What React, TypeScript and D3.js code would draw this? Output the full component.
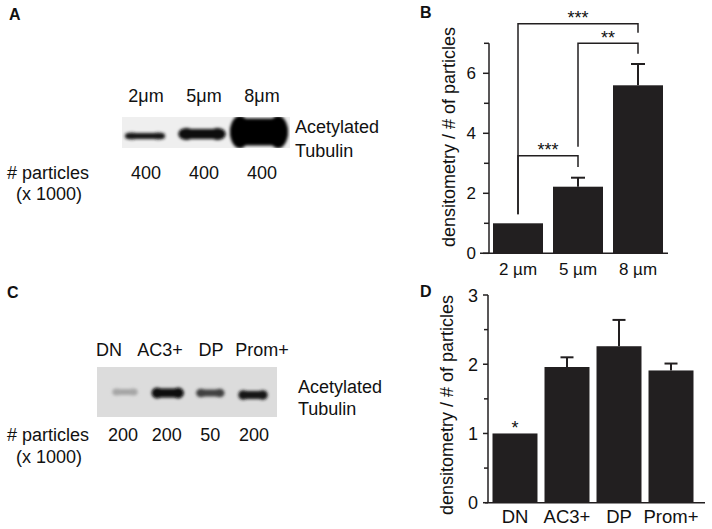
import React from "react";
import * as d3 from "d3";

// ---------- Panel A (blot) ----------
const laneLabelsA = ["2μm", "5μm", "8μm"];
const particlesA = ["400", "400", "400"];
const bandDarknessA = [0.92, 0.97, 1.0];
const bandWidthA = [40, 47, 58];
const bandHeightA = [6, 10, 27];
const bandYA = [136, 134, 132];

// ---------- Panel B (bars) ----------
const categoriesB = ["2 µm", "5 µm", "8 µm"];
const valuesB = [1.0, 2.22, 5.6];
const errorsB = [0, 0.3, 0.71];
const yTicksB = [0, 2, 4, 6];
const yMinorB = [1, 3, 5, 7];
const bracketsB = [
  { a: "2 µm", b: "8 µm", level: 7.65, aEnd: 1.3, bEnd: 7.35, label: "***" },
  { a: "5 µm", b: "8 µm", level: 7.0, aEnd: 3.55, bEnd: 6.65, label: "**" },
  { a: "2 µm", b: "5 µm", level: 3.25, aEnd: 1.3, bEnd: 2.88, label: "***" },
];

// ---------- Panel C (blot) ----------
const laneLabelsC = ["DN", "AC3+", "DP", "Prom+"];
const particlesC = ["200", "200", "50", "200"];
const bandDarknessC = [0.35, 0.97, 0.75, 0.9];
const bandWidthC = [25, 32, 28, 29];
const bandHeightC = [6, 9, 7, 8];
const bandYC = [392, 393, 393, 395];

// ---------- Panel D (bars) ----------
const categoriesD = ["DN", "AC3+", "DP", "Prom+"];
const valuesD = [1.0, 1.96, 2.26, 1.91];
const errorsD = [0, 0.14, 0.38, 0.1];
const yTicksD = [0, 1, 2, 3];
const yMinorD = [0.5, 1.5, 2.5];
const starsD = [{ cat: "DN", label: "*" }];

const FONT = "'Liberation Sans', Arial, sans-serif";
const INK = "#221f20";

function Blot(props: {
  x0: number; x1: number; y0: number; y1: number; bg: string; id: string;
  centers: number[]; widths: number[]; heights: number[]; ys: number[]; dark: number[]; blur: number;
}) {
  const { x0, x1, y0, y1, bg, id, centers, widths, heights, ys, dark, blur } = props;
  return (
    <g>
      <defs>
        <filter id={id} x="-50%" y="-100%" width="200%" height="300%">
          <feGaussianBlur stdDeviation={blur} />
        </filter>
        <clipPath id={id + "clip"}>
          <rect x={x0} y={y0} width={x1 - x0} height={y1 - y0} />
        </clipPath>
      </defs>
      <rect x={x0} y={y0} width={x1 - x0} height={y1 - y0} fill={bg} />
      <g clipPath={`url(#${id}clip)`}>
        <g filter={`url(#${id})`}>
          {centers.map((c, i) => {
            const v = Math.round(255 * (1 - dark[i]));
            const col = `rgb(${v},${v},${v})`;
            return (
              <g key={i}>
                <rect x={c - widths[i] / 2} y={ys[i] - heights[i] / 2} width={widths[i]} height={heights[i]}
                  rx={Math.min(heights[i] / 2, 13)} fill={col} />
                <ellipse cx={c - widths[i] * 0.33} cy={ys[i]} rx={widths[i] * 0.17} ry={heights[i] * 0.6} fill={col} />
                <ellipse cx={c + widths[i] * 0.33} cy={ys[i]} rx={widths[i] * 0.17} ry={heights[i] * 0.6} fill={col} />
              </g>
            );
          })}
        </g>
      </g>
    </g>
  );
}

export default function App() {
  // Panel A scales
  const laneA = d3.scalePoint<string>().domain(laneLabelsA).range([146, 262]);
  const bandXA = d3.scalePoint<number>().domain([0, 1, 2]).range([145, 259]);

  // Panel C scales
  const labelC = d3.scalePoint<string>().domain(laneLabelsC).range([109, 262]);
  const numC = d3.scalePoint<number>().domain([0, 1, 2, 3]).range([123, 254]);
  const bandXC = d3.scalePoint<number>().domain([0, 1, 2, 3]).range([125, 253]);

  // Panel B scales
  const xB = d3.scaleBand<string>().domain(categoriesB).range([488, 668]).paddingInner(1 / 6).paddingOuter(1 / 12);
  const yB = d3.scaleLinear().domain([0, 7]).range([253.3, 43.3]);
  const axisXB = 489;

  // Panel D scales
  const xD = d3.scaleBand<string>().domain(categoriesD).range([489, 697]).paddingInner(0.135).paddingOuter(0.0673);
  const yD = d3.scaleLinear().domain([0, 3]).range([502.7, 295]);
  const axisXD = 488;

  const cxB = (c: string) => (xB(c) as number) + xB.bandwidth() / 2;
  const cxD = (c: string) => (xD(c) as number) + xD.bandwidth() / 2;

  const txt = { fontFamily: FONT, fill: "#111" } as const;

  return (
    <svg width={712} height={529} style={{ position: "absolute", left: 0, top: 0, background: "#fff" }}>
      <rect x={0} y={0} width={712} height={529} fill="#fff" />
      {/* Panel letters */}
      <text x={9} y={20} fontSize={16} fontWeight="bold" {...txt}>A</text>
      <text x={420} y={18} fontSize={16} fontWeight="bold" {...txt}>B</text>
      <text x={7} y={298} fontSize={16} fontWeight="bold" {...txt}>C</text>
      <text x={420} y={297} fontSize={16} fontWeight="bold" {...txt}>D</text>

      {/* ---------- Panel A ---------- */}
      {laneLabelsA.map((l) => (
        <text key={l} x={laneA(l)} y={102} textAnchor="middle" fontSize={18} {...txt}>{l}</text>
      ))}
      <Blot x0={122} x1={290} y0={117} y1={148} bg="#efefef" id="blotA"
        centers={[0, 1, 2].map((i) => bandXA(i) as number)} widths={bandWidthA} heights={bandHeightA}
        ys={bandYA} dark={bandDarknessA} blur={1.6} />
      <text x={295} y={133} fontSize={18} {...txt}>Acetylated</text>
      <text x={295} y={157} fontSize={18} {...txt}>Tubulin</text>
      <text x={7} y={179} fontSize={18} {...txt}># particles</text>
      <text x={16} y={200} fontSize={18} {...txt}>(x 1000)</text>
      {particlesA.map((p, i) => (
        <text key={i} x={laneA(laneLabelsA[i])} y={179} textAnchor="middle" fontSize={18} {...txt}>{p}</text>
      ))}

      {/* ---------- Panel C ---------- */}
      {laneLabelsC.map((l) => (
        <text key={l} x={labelC(l)} y={356} textAnchor="middle" fontSize={18} {...txt}>{l}</text>
      ))}
      <Blot x0={97} x1={277} y0={367} y1={417} bg="#dcdcdc" id="blotC"
        centers={[0, 1, 2, 3].map((i) => bandXC(i) as number)} widths={bandWidthC} heights={bandHeightC}
        ys={bandYC} dark={bandDarknessC} blur={1.8} />
      <text x={298} y={393} fontSize={18} {...txt}>Acetylated</text>
      <text x={298} y={415} fontSize={18} {...txt}>Tubulin</text>
      <text x={7} y={441} fontSize={18} {...txt}># particles</text>
      <text x={16} y={463} fontSize={18} {...txt}>(x 1000)</text>
      {particlesC.map((p, i) => (
        <text key={i} x={numC(i)} y={441} textAnchor="middle" fontSize={18} {...txt}>{p}</text>
      ))}

      {/* ---------- Panel B ---------- */}
      <g>
        {categoriesB.map((c, i) => (
          <rect key={c} x={xB(c)} y={yB(valuesB[i])} width={xB.bandwidth()} height={yB(0) - yB(valuesB[i])} fill={INK} />
        ))}
        {categoriesB.map((c, i) =>
          errorsB[i] > 0 ? (
            <g key={c} stroke={INK} strokeWidth={2}>
              <line x1={cxB(c)} x2={cxB(c)} y1={yB(valuesB[i])} y2={yB(valuesB[i] + errorsB[i])} />
              <line x1={cxB(c) - 7} x2={cxB(c) + 7} y1={yB(valuesB[i] + errorsB[i])} y2={yB(valuesB[i] + errorsB[i])} />
            </g>
          ) : null
        )}
        <line x1={axisXB} x2={axisXB} y1={yB(7)} y2={yB(0)} stroke={INK} strokeWidth={1.5} />
        <line x1={480} x2={668} y1={yB(0)} y2={yB(0)} stroke={INK} strokeWidth={1.5} />
        {yTicksB.map((t) => (
          <g key={t}>
            <line x1={axisXB - 6} x2={axisXB} y1={yB(t)} y2={yB(t)} stroke={INK} strokeWidth={1.5} />
            <text x={476} y={yB(t) + 6} textAnchor="end" fontSize={17} {...txt}>{t}</text>
          </g>
        ))}
        {yMinorB.map((t) => (
          <line key={t} x1={axisXB - 5} x2={axisXB} y1={yB(t)} y2={yB(t)} stroke={INK} strokeWidth={1.5} />
        ))}
        {categoriesB.map((c) => (
          <text key={c} x={cxB(c)} y={275} textAnchor="middle" fontSize={17} {...txt}>{c}</text>
        ))}
        <text transform={`translate(455, 137) rotate(-90)`} textAnchor="middle" fontSize={18} {...txt}>
          densitometry / # of particles
        </text>
        {bracketsB.map((b, i) => {
          const xa = cxB(b.a), xb = cxB(b.b);
          return (
            <g key={i}>
              <path d={`M${xa},${yB(b.aEnd)}V${yB(b.level)}H${xb}V${yB(b.bEnd)}`} fill="none" stroke={INK} strokeWidth={1.5} />
              <text x={(xa + xb) / 2} y={yB(b.level) + 0.5} textAnchor="middle" fontSize={18} {...txt}>{b.label}</text>
            </g>
          );
        })}
      </g>

      {/* ---------- Panel D ---------- */}
      <g>
        {categoriesD.map((c, i) => (
          <rect key={c} x={xD(c)} y={yD(valuesD[i])} width={xD.bandwidth()} height={yD(0) - yD(valuesD[i])} fill={INK} />
        ))}
        {categoriesD.map((c, i) =>
          errorsD[i] > 0 ? (
            <g key={c} stroke={INK} strokeWidth={2}>
              <line x1={cxD(c)} x2={cxD(c)} y1={yD(valuesD[i])} y2={yD(valuesD[i] + errorsD[i])} />
              <line x1={cxD(c) - 6.5} x2={cxD(c) + 6.5} y1={yD(valuesD[i] + errorsD[i])} y2={yD(valuesD[i] + errorsD[i])} />
            </g>
          ) : null
        )}
        <line x1={axisXD} x2={axisXD} y1={yD(3)} y2={yD(0)} stroke={INK} strokeWidth={1.5} />
        <line x1={485} x2={705} y1={yD(0)} y2={yD(0)} stroke={INK} strokeWidth={1.5} />
        {yTicksD.map((t) => (
          <g key={t}>
            <line x1={axisXD - 5} x2={axisXD} y1={yD(t)} y2={yD(t)} stroke={INK} strokeWidth={1.5} />
            <text x={478} y={yD(t) + 6.5} textAnchor="end" fontSize={18} {...txt}>{t}</text>
          </g>
        ))}
        {yMinorD.map((t) => (
          <line key={t} x1={axisXD - 4} x2={axisXD} y1={yD(t)} y2={yD(t)} stroke={INK} strokeWidth={1.5} />
        ))}
        {categoriesD.map((c) => (
          <text key={c} x={cxD(c)} y={523} textAnchor="middle" fontSize={18.5} {...txt}>{c}</text>
        ))}
        <text transform={`translate(453, 405) rotate(-90)`} textAnchor="middle" fontSize={18} {...txt}>
          densitometry / # of particles
        </text>
        {starsD.map((s) => {
          const i = categoriesD.indexOf(s.cat);
          return (
            <text key={s.cat} x={cxD(s.cat)} y={yD(valuesD[i] + errorsD[i]) + 0.5} textAnchor="middle" fontSize={18} {...txt}>{s.label}</text>
          );
        })}
      </g>
    </svg>
  );
}
